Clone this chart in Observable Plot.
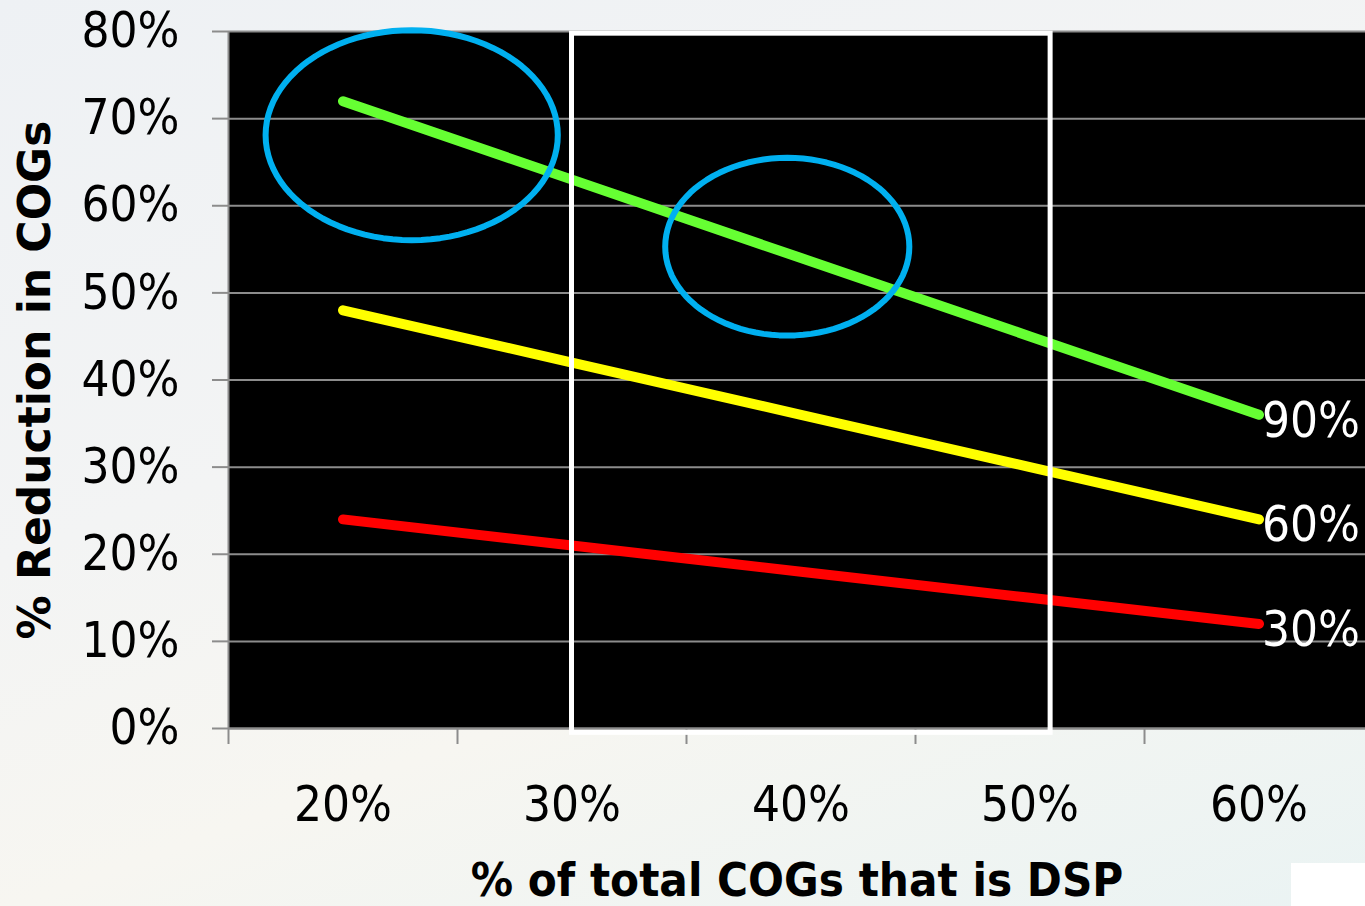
<!DOCTYPE html>
<html>
<head>
<meta charset="utf-8">
<script src="https://cdn.jsdelivr.net/npm/d3@7"></script>
<script src="https://cdn.jsdelivr.net/npm/@observablehq/plot@0.6"></script>
<style>
  html, body { margin: 0; padding: 0; width: 1365px; height: 906px; overflow: hidden; }
  body {
    background: linear-gradient(160deg, #eef1f4 0%, #f3f4f4 40%, #f7f6f1 65%, #eaf3f3 100%);
    position: relative;
  }
  #patch { position: absolute; left: 1291px; top: 863px; width: 74px; height: 43px; background: #fff; }
  svg text { font-stretch: condensed; }
  svg text.wide, svg g.wide text { font-stretch: normal; }
</style>
</head>
<body>
<div id="chart"></div>
<div id="patch"></div>
<script>
// ---- data ----
const categories = [20, 30, 40, 50, 60];            // % of total COGs that is DSP
const categoryBounds = [15, 25, 35, 45, 55, 65];     // category-axis tick boundaries
const seriesNames = ["90%", "60%", "30%"];
const series90 = [72, 63, 54, 45, 36];
const series60 = [48, 42, 36, 30, 24];
const series30 = [24, 21, 18, 15, 12];
const seriesColors = ["#66ff33", "#ffff00", "#ff0000"];
const yTicks = [0, 10, 20, 30, 40, 50, 60, 70, 80];
// highlighted region (white box) in data units
const highlightBox = [{x1: 30, x2: 50.9, y1: -0.5, y2: 79.75}];
// annotation ellipses: center and radii in data units
const ellipses = [
  {cx: 23.0, cy: 68.1, rx: 6.38, ry: 12.05},
  {cx: 39.4, cy: 55.3, rx: 5.33, ry: 10.2}
];

const seriesValues = [series90, series60, series30];
const rows = [];
seriesNames.forEach((s, i) => categories.forEach((c, j) => rows.push({series: s, x: c, y: seriesValues[i][j]})));
const ends = seriesNames.map((s, i) => ({series: s, x: categories[categories.length - 1], y: seriesValues[i][categories.length - 1]}));

const ellipsePts = [];
ellipses.forEach((e, k) => {
  for (let t = 0; t < 96; t++) {
    const a = (t / 96) * 2 * Math.PI;
    ellipsePts.push({k, x: e.cx + e.rx * Math.cos(a), y: e.cy + e.ry * Math.sin(a)});
  }
});

const condensed = "'DejaVu Sans Condensed', 'DejaVu Sans', sans-serif";
const wide = "'DejaVu Sans', sans-serif";

const chart = Plot.plot({
  width: 1365,
  height: 906,
  marginLeft: 228,
  marginRight: 0,
  marginTop: 31,
  marginBottom: 178,
  style: {background: "transparent", fontFamily: condensed, overflow: "visible"},
  x: {domain: [15, 64.65], axis: null},
  y: {domain: [0, 80], axis: null},
  color: {domain: seriesNames, range: seriesColors},
  marks: [
    Plot.frame({fill: "black"}),
    Plot.gridY(yTicks, {stroke: "#8c8c8c", strokeOpacity: 1, strokeWidth: 2}),
    Plot.ruleX([15], {stroke: "#8c8c8c", strokeWidth: 2}),
    Plot.ruleY([0], {stroke: "#8c8c8c", strokeWidth: 2}),
    Plot.axisY({ticks: yTicks, tickSize: 16, tickPadding: 33, tickFormat: d => d + "%",
      stroke: "#8c8c8c", strokeWidth: 2, fill: "black", fontSize: 49, label: null}),
    Plot.axisX({ticks: categoryBounds.filter(d => d < 64.65), tickSize: 16, tickFormat: () => "",
      stroke: "#8c8c8c", strokeWidth: 2, label: null}),
    Plot.text(categories, {x: d => d, y: 0, dy: 77, text: d => d + "%", fill: "black",
      fontSize: 49, textAnchor: "middle", lineAnchor: "middle"}),
    Plot.line(rows, {x: "x", y: "y", z: "series", stroke: "series", strokeWidth: 10,
      strokeLinecap: "round", strokeLinejoin: "round"}),
    Plot.rect(highlightBox, {x1: "x1", x2: "x2", y1: "y1", y2: "y2", fill: "none",
      stroke: "white", strokeWidth: 5}),
    Plot.line(ellipsePts, {x: "x", y: "y", z: "k", curve: "linear-closed",
      stroke: "#00b0f0", strokeWidth: 6}),
    Plot.text(ends, {x: "x", y: "y", text: "series", fill: "white", fontSize: 49,
      textAnchor: "start", lineAnchor: "middle", dx: 3, dy: 6}),
    Plot.text(["% of total COGs that is DSP"], {frameAnchor: "bottom", dy: 152,
      fontSize: 47, fontWeight: "bold", fill: "black", textAnchor: "middle", lineAnchor: "middle"}),
    Plot.text(["% Reduction in COGs"], {frameAnchor: "left", dx: -193, rotate: -90,
      fontSize: 44, fontWeight: "bold", fill: "black", fontFamily: wide, className: "wide",
      textAnchor: "middle", lineAnchor: "middle"})
  ]
});
document.getElementById("chart").append(chart);
</script>
</body>
</html>
